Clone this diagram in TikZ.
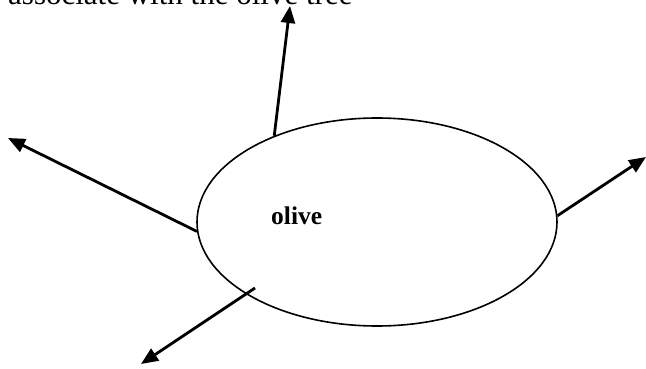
\documentclass[tikz,border=0pt]{standalone}
\usepackage{fontspec}
\setmainfont{Liberation Serif}
\usetikzlibrary{arrows.meta,shapes.geometric}
\begin{document}
\begin{tikzpicture}[x=1pt,y=-1pt,
  ring/.style={draw,ellipse,line width=1.6pt,minimum width=360pt,minimum height=208pt,inner sep=0pt},
  ray/.style={line width=2.8pt,-{Triangle[length=17pt,width=14pt]}},
  label/.style={inner sep=0pt,anchor=base west}]
\useasboundingbox (0,0) rectangle (646,369);
\node[ring] (e) at (377,222) {};
\node[label,font=\fontsize{25.5}{30}\selectfont\bfseries] (lab) at (271,224) {olive};
\node[label,font=\fontsize{31}{36}\selectfont] (top) at (8,5) {associate with the olive tree};
\coordinate (t1) at (290,6);
\coordinate (t2) at (8,138);
\coordinate (t3) at (646,157);
\coordinate (t4) at (141,364);
\coordinate (s4) at (255,288);
\draw[ray] (e.140.7) -- (t1);
\draw[ray] (e.183.2) -- (t2);
\draw[ray] (e.2.9) -- (t3);
\draw[ray] (s4) -- (t4);
\end{tikzpicture}
\end{document}
